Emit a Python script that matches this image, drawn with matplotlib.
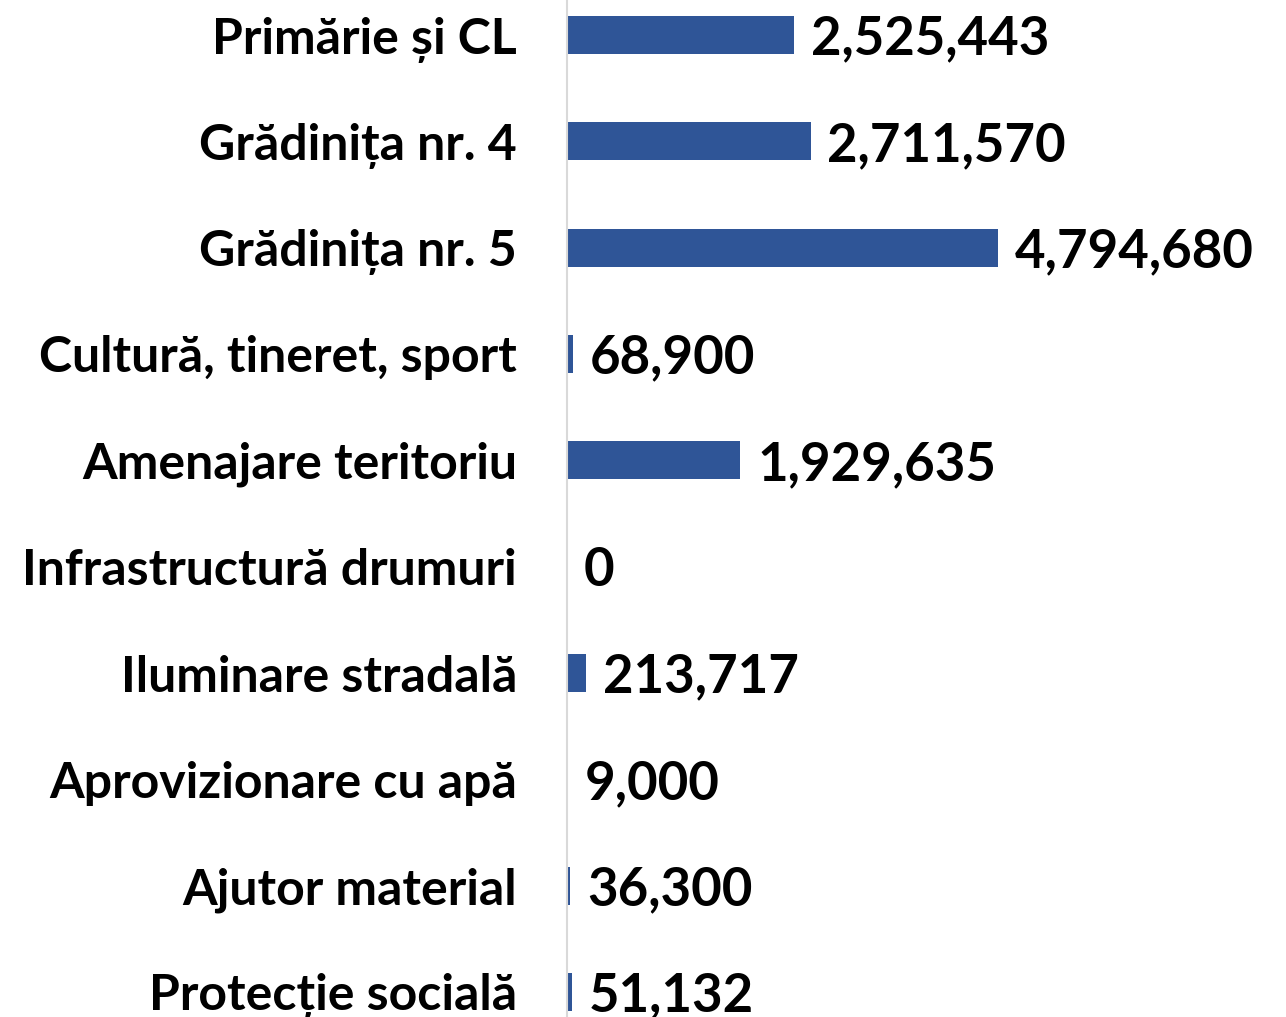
import matplotlib.pyplot as plt

categorii = ['Primărie și CL', 'Grădinița nr. 4', 'Grădinița nr. 5',
             'Cultură, tineret, sport', 'Amenajare teritoriu',
             'Infrastructură drumuri', 'Iluminare stradală',
             'Aprovizionare cu apă', 'Ajutor material', 'Protecție socială']
valori = [2525443, 2711570, 4794680, 68900, 1929635,
          0, 213717, 9000, 36300, 51132]

W, H = 1286, 1017
fig = plt.figure(figsize=(W / 100, H / 100), dpi=100)
ax = fig.add_axes([567 / W, 0, 1 - 567 / W, 1])

y = list(range(len(categorii)))
ax.barh(y, valori, height=0.36, color='#2F5597')

# pozitiile randurilor: primul la 35px, ultimul la 992px
step = (992 - 35) / 9
ax.set_ylim(9 + (H - 992) / step, -35 / step)
ax.set_xlim(0, 8.0e6)

ax.set_yticks(y)
ax.set_yticklabels(categorii, fontsize=36, fontweight='bold', family='Lato')
ax.tick_params(axis='y', length=0, pad=36)
ax.set_xticks([])

for s in ['top', 'right', 'bottom']:
    ax.spines[s].set_visible(False)
ax.spines['left'].set_color('#D9D9D9')
ax.spines['left'].set_linewidth(1.5)

for yi, v in zip(y, valori):
    ax.annotate(f'{v:,}', (v, yi), xytext=(12, -3), textcoords='offset points',
                va='center', ha='left', fontsize=38, fontweight='bold',
                family='Lato')

fig.savefig('out.png', dpi=100)
